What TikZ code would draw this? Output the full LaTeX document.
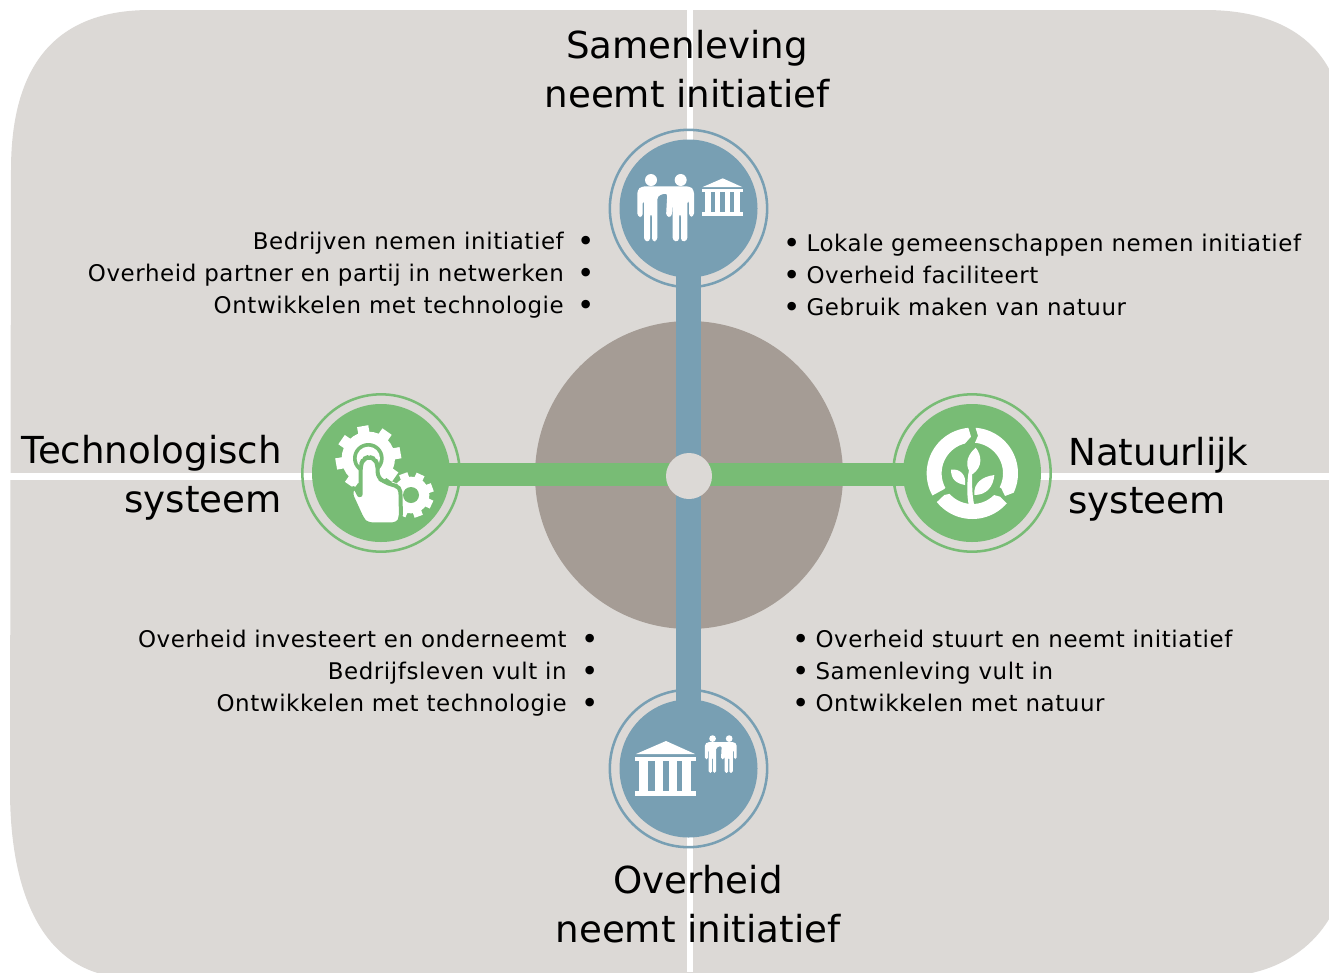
\documentclass[tikz,border=0pt]{standalone}
\usepackage{fontspec}
\setmainfont{DejaVu Sans}
\newfontfamily\bodyface[LetterSpace=2.6]{DejaVu Sans}
\definecolor{bgc}{HTML}{DCD9D6}
\definecolor{hubc}{HTML}{A59C95}
\definecolor{bluec}{HTML}{789FB3}
\definecolor{greenc}{HTML}{78BC75}
\newcommand{\bodyfont}{\bodyface\fontsize{17.2}{24}\selectfont}
\newcommand{\headfont}{\fontsize{27.9}{36.4}\selectfont}
\newcommand{\bulletmark}{\raisebox{-1.5pt}{\fontsize{22}{24}\selectfont •}}
% icon pieces, drawn in local units
\newcommand{\personpair}[1]{%
  \fill[white] (153,180) circle[radius=18];
  \fill[white] (242,180) circle[radius=18];
  \fill[white,rounded corners=#1] (125,199) -- (270,199) -- (282,210) -- (282,290) -- (267,290) -- (267,240) -- (262,240) -- (262,363) -- (243,365) -- (243,280) -- (237,280) -- (237,365) -- (218,363) -- (218,240) -- (215,292) -- (198,290) -- (202,218) -- (172,228) -- (172,363) -- (156,365) -- (156,280) -- (150,280) -- (150,365) -- (132,363) -- (132,240) -- (128,240) -- (128,292) -- (112,290) -- (112,210) -- cycle;
}
\newcommand{\temple}{%
  \fill[white] (93,0) -- (180,39) -- (3,39) -- cycle;
  \fill[white] (0,47) rectangle (183,60);
  \fill[white] (13,60) rectangle (40,150);
  \fill[white] (60,60) rectangle (83,150);
  \fill[white] (102,60) rectangle (125,150);
  \fill[white] (142,60) rectangle (167,150);
  \fill[white] (0,150) rectangle (183,164);
}
\tikzset{
  disc/.style={circle,fill=#1,minimum size=103.5pt,inner sep=0pt},
  ringc/.style={circle,draw=#1,line width=1.9pt,minimum size=118pt,inner sep=0pt},
  band/.style={white,line width=4.8pt},
  head/.style={font=\headfont,inner sep=0pt},
  bul/.style={font=\bodyfont,inner sep=0pt},
  iconlocal/.style={x=0.25pt,y=-0.25pt}
}
\begin{document}
\begin{tikzpicture}[x=0.75pt,y=-0.75pt]
\clip (0,0) rectangle (1329,972);
% background
\fill[bgc] (150,10) -- (1205,10) .. controls (1290,10) and (1345,50) .. (1345,140) -- (1345,860) .. controls (1345,925) and (1295,972) .. (1230,976) -- (125,978) .. controls (35,972) and (10,880) .. (10,790) -- (11,170) .. controls (11,60) and (60,10) .. (150,10) -- cycle;
\coordinate (bt) at (690,10);
\coordinate (bb) at (690,972);
\coordinate (bl) at (10,476.5);
\coordinate (br) at (1329,476.5);
\draw[band] (bt) -- (bb);
\draw[band] (bl) -- (br);
% centre
\node[circle,fill=hubc,minimum size=231pt,inner sep=0pt] (hub) at (689,475) {};
% rings and discs
\node[ringc=bluec] (rT) at (688.5,208.5) {};
\node[ringc=bluec] (rB) at (688.5,768.5) {};
\node[ringc=greenc] (rL) at (381,473) {};
\node[ringc=greenc] (rR) at (972,473) {};
\node[disc=bluec] (T) at (688.5,208.5) {};
\node[disc=bluec] (B) at (688.5,768.5) {};
\node[disc=greenc] (L) at (381,473) {};
\node[disc=greenc] (R) at (972,473) {};
% connectors
\draw[bluec,line width=18.7pt] (T.center) -- (B.center);
\draw[greenc,line width=17.3pt] ([yshift=-0.9pt]L.center) -- ([yshift=-0.9pt]R.center);
\node[circle,fill=bgc,minimum size=34.5pt,inner sep=0pt] (core) at (689,476) {};
% top icon
\begin{scope}[shift={(600,120)},iconlocal]
  \personpair{2.5pt}
  \begin{scope}[shift={(305,175)},x=0.17pt,y=-0.17pt]\temple\end{scope}
\end{scope}
% bottom icon
\begin{scope}[shift={(600,680)},iconlocal]
  \begin{scope}[shift={(105,183)}]\temple\end{scope}
  \begin{scope}[shift={(252,75)},x=0.14pt,y=-0.14pt]\personpair{1.2pt}\end{scope}
\end{scope}
% gear and hand icon
\begin{scope}[shift={(295,385)},iconlocal]
  \foreach \a in {0,45,...,315} {
    \fill[white,rotate around={\a+10:(220,220)}] (203,122) rectangle (237,160);
  }
  \fill[white] (220,220) circle[radius=80];
  \fill[greenc] (220,220) circle[radius=46];
  \fill[white] (220,220) circle[radius=35];
  \foreach \a in {0,45,...,315} {
    \fill[white,rotate around={\a+20:(348,330)}] (335,262) rectangle (361,290);
  }
  \fill[white] (348,330) circle[radius=55];
  \fill[greenc] (348,330) circle[radius=24];
  \draw[greenc,line width=3pt,fill=white,line join=round,rounded corners=4pt] (197,340) -- (197,240) -- (205,222) -- (222,215) -- (240,222) -- (248,240) -- (248,278) -- (268,290) -- (290,300) -- (316,305) -- (318,400) -- (308,418) -- (215,418) -- (203,405) -- (165,322) -- (178,302) -- cycle;
\end{scope}
% ring and plant icon
\begin{scope}[shift={(885,385)},iconlocal]
  \fill[white] plot[domain=-95:-209,samples=30] ({262+137*cos(\x)},{265+137*sin(\x)}) -- (178,312) -- plot[domain=-208:-104,samples=30] ({262+92*cos(\x)},{265+92*sin(\x)}) -- (258,155) -- cycle;
  \fill[white] plot[domain=-86:25,samples=30] ({262+137*cos(\x)},{265+137*sin(\x)}) -- (360,333) -- (349,310) -- plot[domain=27:-85,samples=30] ({262+92*cos(\x)},{265+92*sin(\x)}) -- (279,152) -- cycle;
  \fill[white] plot[domain=41:141,samples=30] ({262+137*cos(\x)},{265+137*sin(\x)}) -- (178,330) -- plot[domain=138:45,samples=30] ({262+92*cos(\x)},{265+92*sin(\x)}) -- (345,335) -- cycle;
  \fill[white] (272,188) .. controls (290,210) and (295,245) .. (262,268) .. controls (240,250) and (240,215) .. (272,188) -- cycle;
  \fill[white] (198,254) .. controls (225,250) and (245,270) .. (240,300) .. controls (215,295) and (198,285) .. (198,254) -- cycle;
  \fill[white] (328,270) .. controls (325,305) and (305,330) .. (268,330) .. controls (265,295) and (290,275) .. (328,270) -- cycle;
  \fill[white] (252,255) -- (262,255) .. controls (260,300) and (262,335) .. (268,362) -- (252,362) .. controls (245,335) and (245,290) .. (252,255) -- cycle;
\end{scope}
% headings
\node[head,align=center] (hT) at (687,69) {Samenleving\\neemt initiatief};
\node[head,align=center] (hB) at (698,904) {Overheid\\neemt initiatief};
\node[head,align=right,anchor=east] (hL) at (282,477.5) {Technologisch\\systeem};
\node[head,align=left,anchor=west] (hR) at (1068,479) {Natuurlijk\\systeem};
% lists
\node[bul,align=right,anchor=east] (lTL) at (594.7,275) {Bedrijven nemen initiatief\hspace{10pt}\bulletmark\\Overheid partner en partij in netwerken\hspace{10pt}\bulletmark\\Ontwikkelen met technologie\hspace{10pt}\bulletmark};
\node[bul,align=left,anchor=west] (lTR) at (783,276) {\bulletmark\hspace{4.5pt}Lokale gemeenschappen nemen initiatief\\\bulletmark\hspace{4.5pt}Overheid faciliteert\\\bulletmark\hspace{4.5pt}Gebruik maken van natuur};
\node[bul,align=right,anchor=east] (lBL) at (598.7,673) {Overheid investeert en onderneemt\hspace{10.8pt}\bulletmark\\Bedrijfsleven vult in\hspace{10.8pt}\bulletmark\\Ontwikkelen met technologie\hspace{10.8pt}\bulletmark};
\node[bul,align=left,anchor=west] (lBR) at (792,672) {\bulletmark\hspace{4.5pt}Overheid stuurt en neemt initiatief\\\bulletmark\hspace{4.5pt}Samenleving vult in\\\bulletmark\hspace{4.5pt}Ontwikkelen met natuur};
\end{tikzpicture}
\end{document}
